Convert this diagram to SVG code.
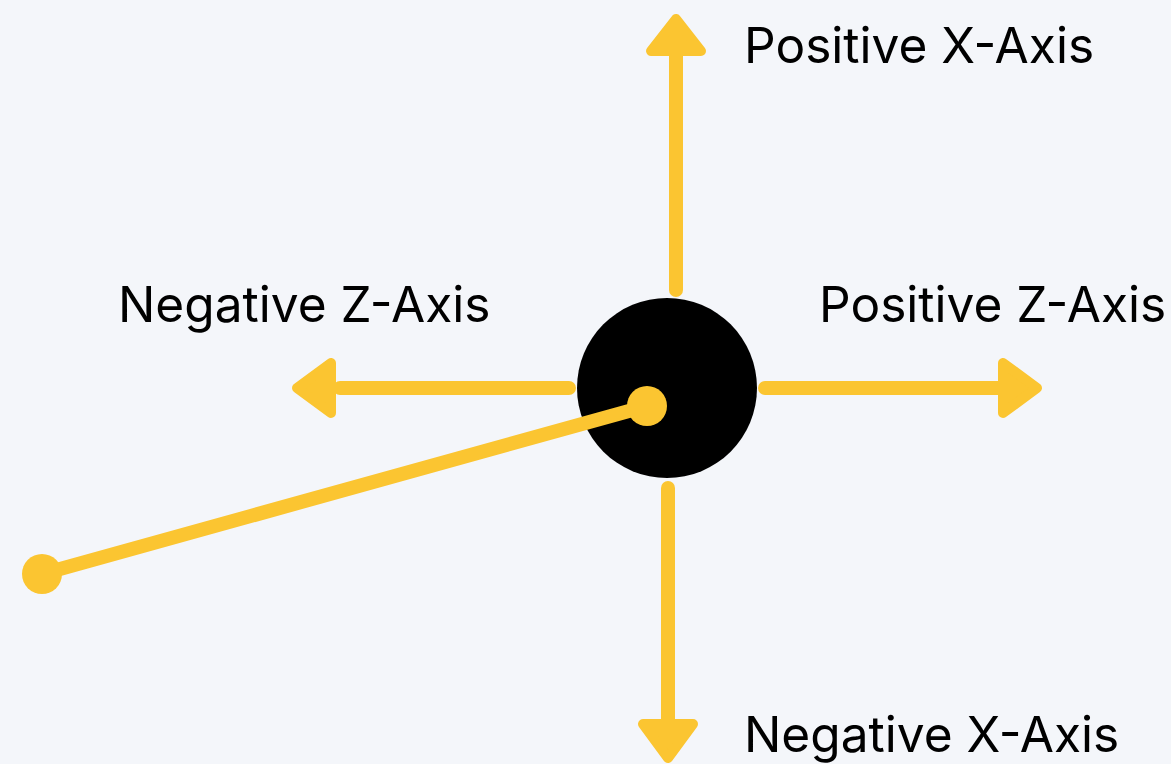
<svg xmlns="http://www.w3.org/2000/svg" width="1171" height="764" viewBox="0 0 1171 764">
<style>
.ax{stroke:#FBC531;stroke-width:14;stroke-linecap:round;fill:none}
.hd{fill:#FBC531;stroke:#FBC531;stroke-width:10;stroke-linejoin:round}
.lb{font-family:Inter,"Noto Sans",sans-serif;font-size:49.6px;fill:#000}
</style>
<rect width="1171" height="764" fill="#F4F6FA"/>
<g id="connectors">
<line class="ax" x1="676" y1="290" x2="676" y2="50"/>
<polygon class="hd" points="676,19 651,51 701,51"/>
<line class="ax" x1="569" y1="388" x2="340" y2="388"/>
<polygon class="hd" points="297,388 331,363 331,413"/>
<line class="ax" x1="765" y1="388" x2="1000" y2="388"/>
<polygon class="hd" points="1037,388 1003,363 1003,413"/>
<line class="ax" x1="668" y1="488" x2="668" y2="725"/>
<polygon class="hd" points="668,758 643,724 693,724"/>
</g>
<g id="center">
<circle cx="667" cy="388" r="90" fill="#000"/>
</g>
<g id="vector">
<line class="ax" x1="647" y1="406" x2="42" y2="574"/>
<circle cx="647" cy="406" r="20" fill="#FBC531"/>
<circle cx="42" cy="574" r="20" fill="#FBC531"/>
</g>
<g id="labels">
<text class="lb" x="744" y="63">Positive X-Axis</text>
<text class="lb" x="118" y="322">Negative Z-Axis</text>
<text class="lb" x="819" y="322">Positive Z-Axis</text>
<text class="lb" x="744" y="752">Negative X-Axis</text>
</g>
</svg>
